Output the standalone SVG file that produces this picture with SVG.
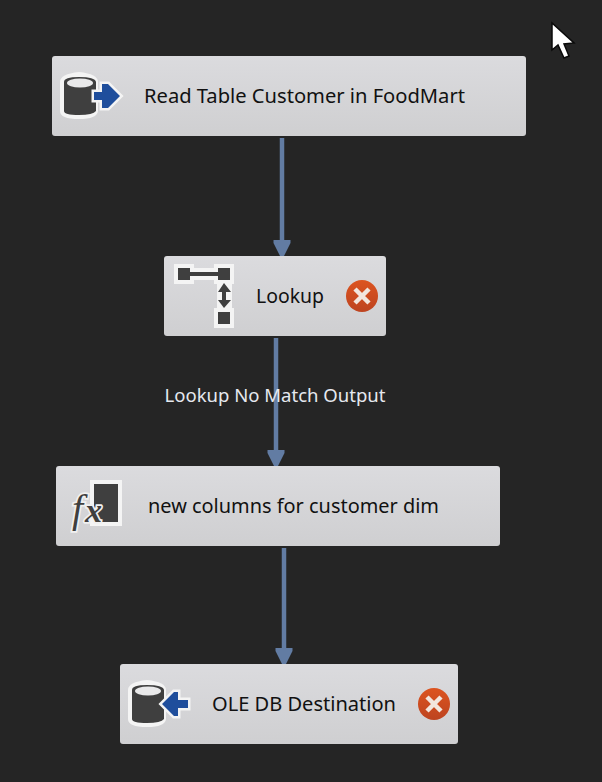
<svg xmlns="http://www.w3.org/2000/svg" width="602" height="782" viewBox="0 0 602 782">
<style>
.lbl{font-family:"Noto Sans","Liberation Sans",sans-serif;font-size:20.5px;fill:#111}
.edge{font-family:"Noto Sans","Liberation Sans",sans-serif;font-size:18.5px;fill:#e6e9ef}
.box{fill:url(#g);stroke:none}
.wire{stroke:#627ca3;stroke-width:4.500;fill:none}
.head{fill:#627ca3}
.dark{fill:#3f3f3f}
.halo{fill:#f4f4f4}
.err{fill:url(#r)}
.x{stroke:#f2e6de;stroke-width:4.500}
.ar{fill:#1f4e9c;stroke:#f4f4f4;stroke-width:5;paint-order:stroke;stroke-linejoin:miter}
</style>
<defs>
<linearGradient id="g" x1="0" y1="0" x2="0" y2="1"><stop offset="0" stop-color="#dbdbde"/><stop offset="1" stop-color="#cfcfd1"/></linearGradient>
<linearGradient id="r" x1="0" y1="0" x2="0" y2="1"><stop offset="0" stop-color="#dc5420"/><stop offset="1" stop-color="#bd4420"/></linearGradient>
<g id="drum">
<path class="halo" d="M0 8Q0 0 19 -2Q38 0 38 8V37Q37 45 19 45Q0 45 0 37Z"/>
<path class="dark" d="M4 8Q4 3 19 3Q35 3 36 8V37Q33 41 19 41Q4 41 4 37Z"/>
<ellipse cx="20" cy="9" rx="13" ry="4.500" fill="#e9e9ea"/>
</g>
<g id="err">
<circle class="err" r="16"/>
<path class="x" d="M-7 -7L7 7M7 -7L-7 7"/>
</g>
</defs>
<rect width="602" height="782" fill="#252525"/>
<g id="connectors">
<path class="wire" d="M282 138V242"/><path class="head" d="M273.500 240H290.500V243L284 256H280L273.500 243Z"/>
<path class="wire" d="M276 338V452"/><path class="head" d="M267.500 450H284.500V453L278 466H274L267.500 453Z"/>
<path class="wire" d="M284 548V650"/><path class="head" d="M275.500 648H292.500V651L286 664H282L275.500 651Z"/>
<text class="edge" x="275" y="401.500" text-anchor="middle" textLength="221" lengthAdjust="spacingAndGlyphs">Lookup No Match Output</text>
</g>
<g id="node-read">
<rect class="box" x="52" y="56" width="474" height="80" rx="3"/>
<use href="#drum" x="60" y="74"/>
<path class="ar" d="M94 92H102V84H108L120 96L108 108H102V100H94Z"/>
<text class="lbl" x="144" y="103" textLength="321" lengthAdjust="spacingAndGlyphs">Read Table Customer in FoodMart</text>
</g>
<g id="node-lookup">
<rect class="box" x="164" y="256" width="222" height="80" rx="3"/>
<path class="halo" d="M174 264H194V268H214V264H234V284H232V308H234V328H214V308H217V284H214V280H194V284H174Z"/>
<rect class="dark" x="178" y="268" width="12" height="12"/>
<rect class="dark" x="218" y="268" width="12" height="12"/>
<rect class="dark" x="190" y="272" width="28" height="4"/>
<rect class="dark" x="218" y="312" width="12" height="12"/>
<path class="dark" d="M224 283L231 292H226V300H231L224 308L218 300H222V292H218Z"/>
<text class="lbl" x="256" y="303" textLength="68" lengthAdjust="spacingAndGlyphs">Lookup</text>
<use href="#err" x="362" y="296"/>
</g>
<g id="node-derived">
<rect class="box" x="56" y="466" width="444" height="80" rx="3"/>
<rect class="halo" x="90" y="480" width="32" height="46"/>
<rect class="dark" x="94" y="484" width="24" height="38"/>
<text font-family="'Liberation Serif',serif" font-style="italic" font-size="40" fill="#3f3f3f" stroke="#f0f0f0" stroke-width="3.500" paint-order="stroke"><tspan x="72" y="522">f</tspan><tspan x="85" y="522" font-weight="bold" font-size="34">x</tspan></text>
<text class="lbl" x="148" y="513" textLength="291" lengthAdjust="spacingAndGlyphs">new columns for customer dim</text>
</g>
<g id="node-dest">
<rect class="box" x="120" y="664" width="338" height="80" rx="3"/>
<use href="#drum" x="128" y="682"/>
<path class="ar" d="M188 700H178V692H174L162 704L174 716H178V708H188Z"/>
<text class="lbl" x="212" y="711" textLength="184" lengthAdjust="spacingAndGlyphs">OLE DB Destination</text>
<use href="#err" x="434" y="704"/>
</g>
<path id="cursor" d="M552 23V50L558 45L564 58L569 56L564 44L574 43Z" fill="#fff" stroke="#0a0a0a" stroke-width="1.500"/>
</svg>
